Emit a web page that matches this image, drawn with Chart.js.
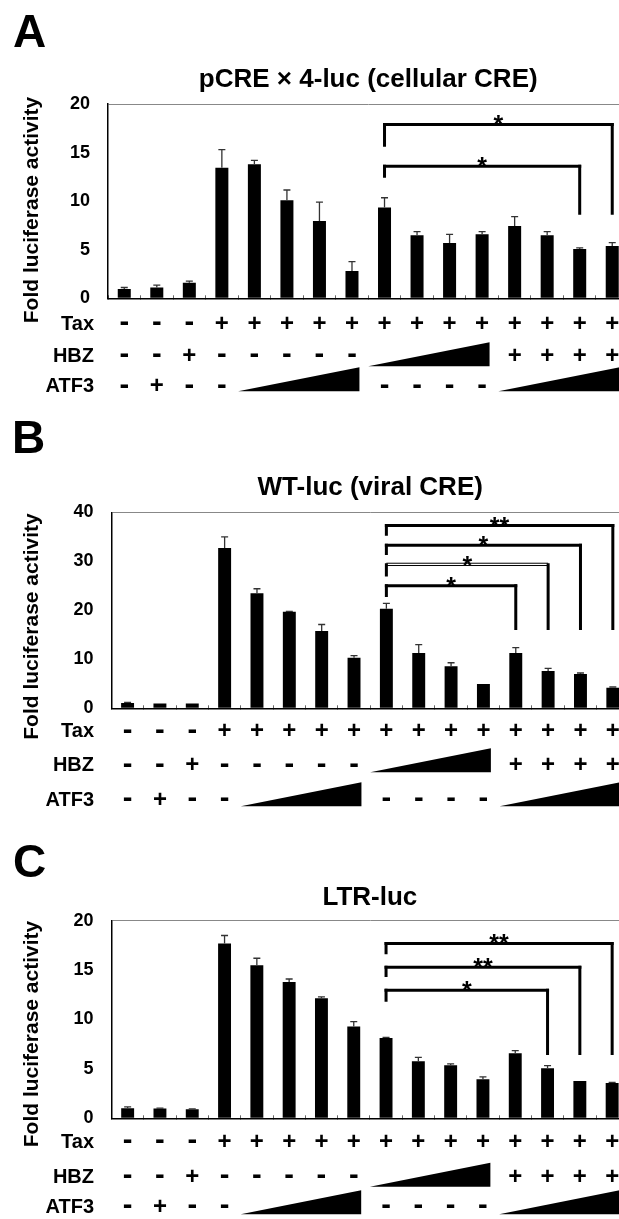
<!DOCTYPE html>
<html>
<head>
<meta charset="utf-8">
<script src="https://cdn.jsdelivr.net/npm/chart.js@4.4.1/dist/chart.umd.min.js"></script>
<style>
html, body { margin: 0; padding: 0; background: #fff; overflow: hidden; }
body { width: 619px; height: 1219px; position: relative; }
canvas { position: absolute; left: 0; }
</style>
</head>
<body>
<canvas id="chartA" width="640" height="405" style="top:0px;width:640px;height:405px"></canvas>
<canvas id="chartB" width="640" height="405" style="top:408px;width:640px;height:405px"></canvas>
<canvas id="chartC" width="640" height="403" style="top:816px;width:640px;height:403px"></canvas>
<script>
// lanes of the experiment (one bar each)
const lanes = ['1', '2', '3', '4', '5', '6', '7', '8', '9', '10', '11', '12', '13', '14', '15', '16']

// transfection table under the bars; 'ramp' = increasing dose
const taxRow = ['-', '-', '-', '+', '+', '+', '+', '+', '+', '+', '+', '+', '+', '+', '+', '+']
const hbzRow = ['-', '-', '+', '-', '-', '-', '-', '-', 'ramp', 'ramp', 'ramp', 'ramp', '+', '+', '+', '+']
const atf3Row = ['-', '+', '-', '-', 'ramp', 'ramp', 'ramp', 'ramp', '-', '-', '-', '-', 'ramp', 'ramp', 'ramp', 'ramp']

// A: pCRE x 4-luc
const valuesA = [0.96, 1.12, 1.6, 13.45, 13.8, 10.1, 7.95, 2.8, 9.35, 6.5, 5.7, 6.6, 7.44, 6.5, 5.07, 5.38]
const errorsA = [0.15, 0.24, 0.17, 1.85, 0.4, 1.05, 1.95, 0.97, 1.0, 0.37, 0.88, 0.26, 0.96, 0.36, 0.13, 0.35]
const bracketsA = [
    { from: 8, to: 15, level: 17.9, leftEnd: 15.6, rightEnd: 8.6, label: '*' },
    { from: 8, to: 14, level: 13.6, leftEnd: 12.4, rightEnd: 8.6, label: '*' }
]

// B: WT-luc
const valuesB = [1.1, 1.0, 1.0, 32.7, 23.5, 19.7, 15.8, 10.3, 20.3, 11.3, 8.6, 4.97, 11.3, 7.6, 7.0, 4.2]
const errorsB = [0.1, 0, 0, 2.3, 0.9, 0.1, 1.3, 0.45, 1.1, 1.7, 0.7, 0, 1.1, 0.55, 0.2, 0.15]
const bracketsB = [
    { from: 8, to: 15, level: 37.3, leftEnd: 35.2, rightEnd: 16.0, label: '**' },
    { from: 8, to: 14, level: 33.3, leftEnd: 31.3, rightEnd: 16.0, label: '*' },
    { from: 8, to: 13, level: 29.3, leftEnd: 26.9, rightEnd: 16.0, label: '*', thin: true },
    { from: 8, to: 12, level: 25.0, leftEnd: 22.7, rightEnd: 16.0, label: '*' }
]

// C: LTR-luc
const valuesC = [1.01, 1.0, 0.91, 17.7, 15.5, 13.8, 12.15, 9.3, 8.13, 5.77, 5.36, 3.95, 6.58, 5.06, 3.78, 3.58]
const errorsC = [0.14, 0.03, 0.05, 0.8, 0.7, 0.3, 0.15, 0.48, 0.07, 0.4, 0.14, 0.25, 0.27, 0.27, 0, 0.06]
const bracketsC = [
    { from: 8, to: 15, level: 17.7, leftEnd: 16.6, rightEnd: 6.4, label: '**' },
    { from: 8, to: 14, level: 15.3, leftEnd: 14.3, rightEnd: 6.4, label: '**' },
    { from: 8, to: 13, level: 12.96, leftEnd: 11.8, rightEnd: 6.4, label: '*' }
]

const FONT = "'Liberation Sans', Arial, Helvetica, sans-serif"
Chart.defaults.font.family = FONT

let drawErrors = function (chart, p) {
    let ctx = chart.ctx, x = chart.scales.x, y = chart.scales.y
    ctx.save()
    ctx.strokeStyle = '#333'
    ctx.lineWidth = 1.3
    p.errors.forEach(function (e, i) {
        if (!e) return
        let cx = x.getPixelForValue(i)
        let top = y.getPixelForValue(p.values[i])
        let cap = y.getPixelForValue(p.values[i] + e)
        ctx.beginPath()
        ctx.moveTo(cx, top)
        ctx.lineTo(cx, cap)
        ctx.moveTo(cx - 3.5, cap)
        ctx.lineTo(cx + 3.5, cap)
        ctx.stroke()
    })
    ctx.restore()
}

let drawBrackets = function (chart, p) {
    let ctx = chart.ctx, x = chart.scales.x, y = chart.scales.y
    ctx.save()
    ctx.strokeStyle = '#000'
    ctx.fillStyle = '#000'
    p.brackets.forEach(function (b) {
        let x1 = x.getPixelForValue(b.from)
        let x2 = x.getPixelForValue(b.to)
        let yb = y.getPixelForValue(b.level)
        ctx.lineWidth = 3
        ctx.beginPath()
        ctx.moveTo(x1, y.getPixelForValue(b.leftEnd))
        ctx.lineTo(x1, yb - 1.5)
        ctx.moveTo(x2, yb - 1.5)
        ctx.lineTo(x2, y.getPixelForValue(b.rightEnd))
        ctx.stroke()
        ctx.beginPath()
        if (b.thin) {
            ctx.lineWidth = 1
            ctx.moveTo(x1, yb - 1.5); ctx.lineTo(x2, yb - 1.5)
            ctx.moveTo(x1, yb + 0.8); ctx.lineTo(x2, yb + 0.8)
        } else {
            ctx.moveTo(x1 - 1.5, yb); ctx.lineTo(x2 + 1.5, yb)
        }
        ctx.stroke()
        ctx.font = 'bold 25px ' + FONT
        ctx.textAlign = 'center'
        ctx.textBaseline = 'alphabetic'
        ctx.fillText(b.label, (x1 + x2) / 2, yb + 9)
    })
    ctx.restore()
}

let drawTable = function (chart, p) {
    let ctx = chart.ctx, x = chart.scales.x
    let bottom = chart.chartArea.bottom
    let cw = x.getPixelForValue(1) - x.getPixelForValue(0)
    let rows = [['Tax', taxRow], ['HBZ', hbzRow], ['ATF3', atf3Row]]
    ctx.save()
    ctx.fillStyle = '#000'
    rows.forEach(function (r, k) {
        let cy = bottom + p.rowY[k]
        ctx.font = 'bold 20px ' + FONT
        ctx.textAlign = 'right'
        ctx.textBaseline = 'middle'
        ctx.fillText(r[0], p.labelRight, cy)
        ctx.textAlign = 'center'
        r[1].forEach(function (s, i) {
            if (s === 'ramp') return
            // the dashes in the figure are drawn larger than the plus signs
            ctx.font = (s === '-' ? 'bold 29px ' : 'bold 24px ') + FONT
            ctx.fillText(s, x.getPixelForValue(i), s === '-' ? cy - 1 : cy)
        })
        let i = 0
        while (i < r[1].length) {
            if (r[1][i] === 'ramp') {
                let j = i
                while (j + 1 < r[1].length && r[1][j + 1] === 'ramp') j++
                let left = x.getPixelForValue(i) - cw / 2
                let right = x.getPixelForValue(j) + cw * 0.23
                let yb = bottom + p.rampBottom[k]
                ctx.beginPath()
                ctx.moveTo(left, yb)
                ctx.lineTo(right, yb)
                ctx.lineTo(right, yb - 24)
                ctx.closePath()
                ctx.fill()
                i = j + 1
            } else {
                i++
            }
        }
    })
    // y axis title
    ctx.save()
    ctx.translate(32, p.yTitleY)
    ctx.rotate(-Math.PI / 2)
    ctx.font = 'bold 21px ' + FONT
    ctx.textAlign = 'center'
    ctx.textBaseline = 'middle'
    ctx.fillText('Fold luciferase activity', 0, 0)
    ctx.restore()
    // panel letter
    ctx.font = 'bold 46px ' + FONT
    ctx.textAlign = 'left'
    ctx.textBaseline = 'alphabetic'
    ctx.fillText(p.letter, p.letterX, p.letterY)
    ctx.restore()
}

let makeChart = function (id, p) {
    return new Chart(id, {
        type: 'bar',
        data: {
            labels: lanes,
            datasets: [{
                data: p.values,
                backgroundColor: '#000',
                barPercentage: 0.4,
                categoryPercentage: 1
            }]
        },
        options: {
            responsive: false,
            animation: false,
            layout: { padding: { left: 0, top: 0, bottom: 0, right: p.padRight } },
            plugins: {
                legend: { display: false },
                tooltip: { enabled: false },
                title: {
                    display: true,
                    text: p.title,
                    fullSize: false,
                    color: '#000',
                    font: { size: 26, weight: 'bold' },
                    padding: { top: p.titleTop, bottom: p.titleBottom }
                }
            },
            scales: {
                x: {
                    ticks: { display: false },
                    grid: { drawOnChartArea: false, tickLength: -3, color: '#666' },
                    border: { color: '#000', width: 1.5 },
                    afterFit: function (s) { s.height = p.bottomSpace }
                },
                y: {
                    min: 0,
                    max: p.max,
                    ticks: { stepSize: p.step, color: '#000', font: { size: 18, weight: 'bold' }, padding: 18 },
                    grid: {
                        drawTicks: false,
                        color: function (c) { return c.tick && c.tick.value === p.max ? '#888' : 'rgba(0,0,0,0)' }
                    },
                    border: { color: '#000', width: 1.5 },
                    afterFit: function (s) { s.width = p.left }
                }
            }
        },
        plugins: [{
            id: 'extras',
            afterDatasetsDraw: function (chart) {
                drawErrors(chart, p)
                drawBrackets(chart, p)
            },
            afterDraw: function (chart) {
                drawTable(chart, p)
            }
        }]
    })
}

let chartA = makeChart('chartA', {
    title: 'pCRE \u00d7 4-luc (cellular CRE)', letter: 'A', letterX: 13, letterY: 47,
    values: valuesA, errors: errorsA, brackets: bracketsA, max: 20, step: 5,
    left: 108, padRight: 11.5, bottomSpace: 106.7, titleTop: 64.4, titleBottom: 8.4,
    rowY: [26, 58, 88.5], rampBottom: [0, 68, 93], labelRight: 94, yTitleY: 210
})

let chartB = makeChart('chartB', {
    title: 'WT-luc (viral CRE)', letter: 'B', letterX: 12, letterY: 45,
    values: valuesB, errors: errorsB, brackets: bracketsB, max: 40, step: 10,
    left: 111.4, padRight: 11, bottomSpace: 104.7, titleTop: 64.1, titleBottom: 9,
    rowY: [23.5, 57.5, 92], rampBottom: [0, 64, 98], labelRight: 94, yTitleY: 218.5
})

let chartC = makeChart('chartC', {
    title: 'LTR-luc', letter: 'C', letterX: 13, letterY: 61,
    values: valuesC, errors: errorsC, brackets: bracketsC, max: 20, step: 5,
    left: 111.5, padRight: 11.7, bottomSpace: 100.7, titleTop: 66.4, titleBottom: 7.1,
    rowY: [24, 59, 89], rampBottom: [0, 68.5, 96], labelRight: 94, yTitleY: 218
})
</script>
</body>
</html>
